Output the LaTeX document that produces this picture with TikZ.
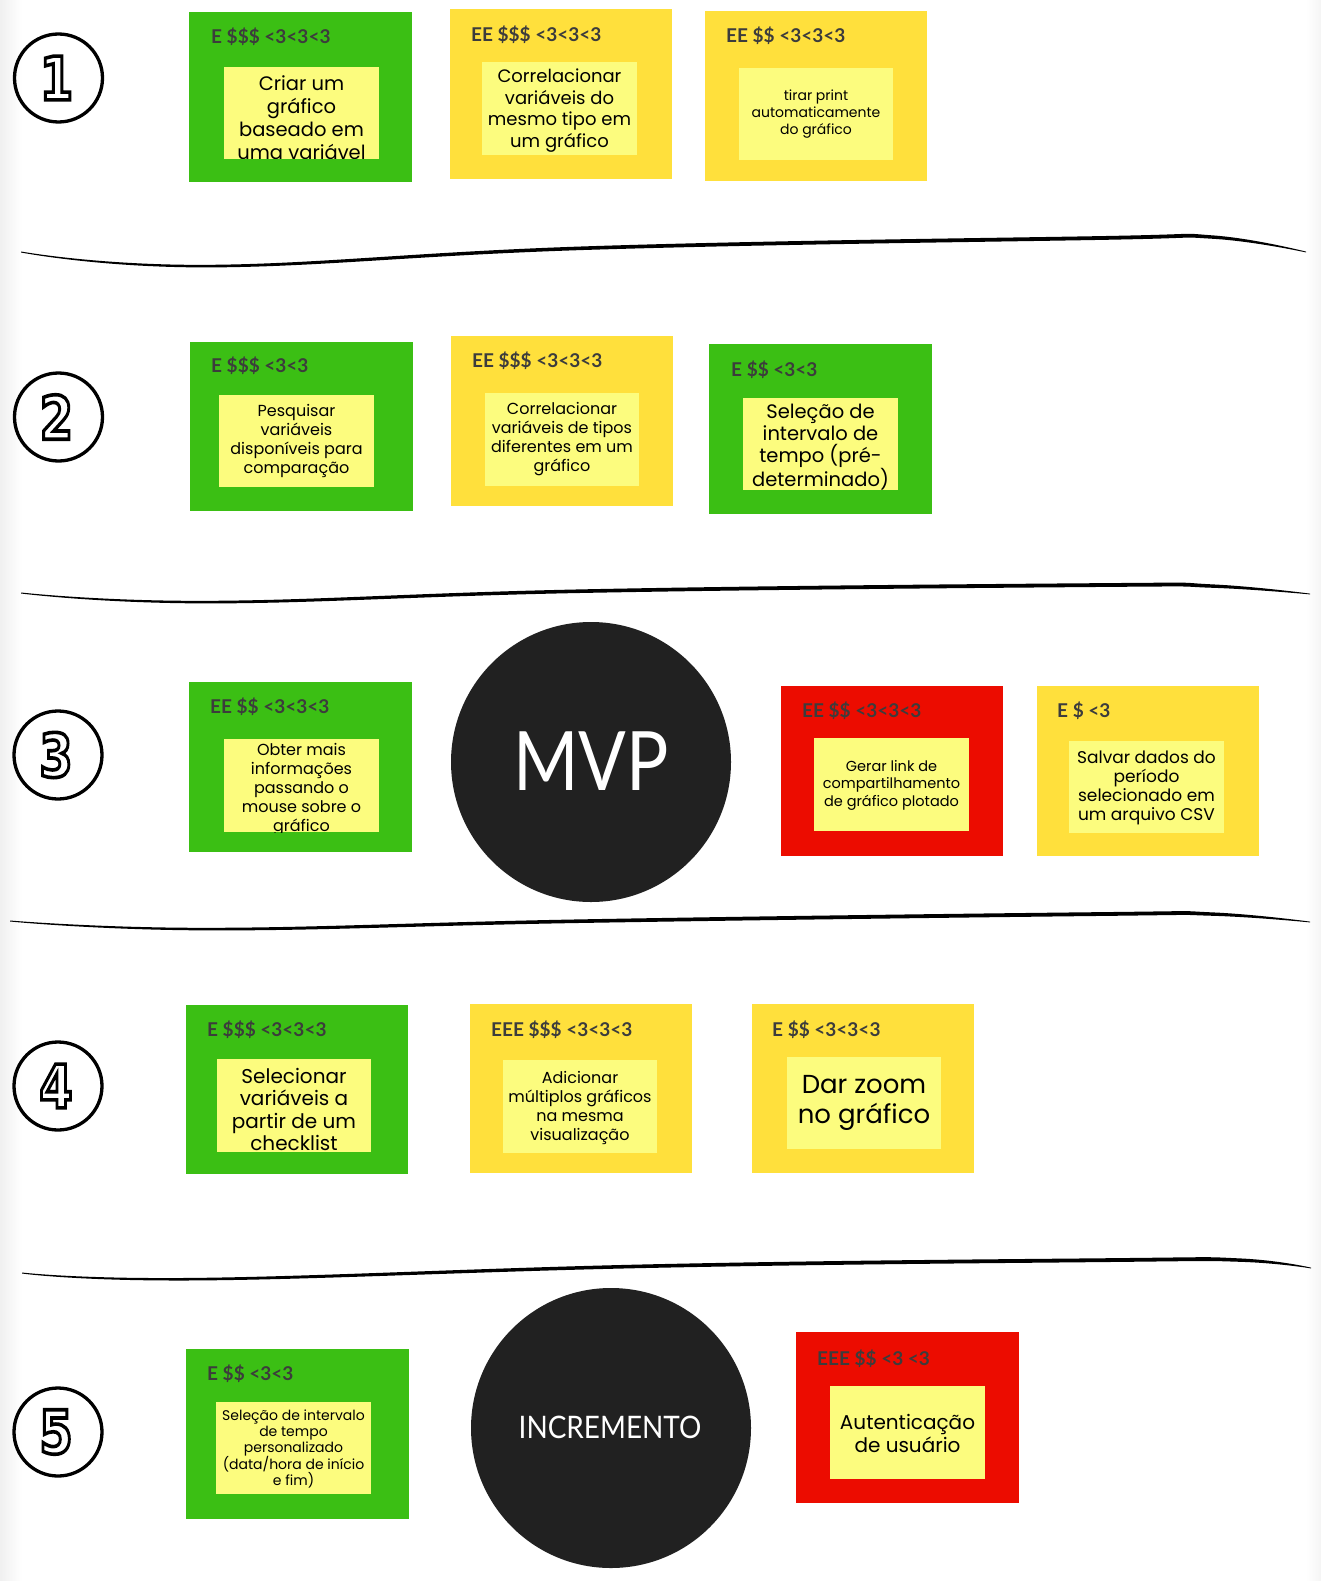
\documentclass[tikz,border=0pt]{standalone}
\usepackage{graphicx}
\usepackage{fontspec}
\setmainfont{Lato}
\newfontfamily\hdrfont{Lato}
\newfontfamily\handfont{Poppins}
\newfontfamily\digfont{DejaVu Sans}[BoldFeatures={FakeBold=6}]
\usetikzlibrary{calc}
\definecolor{sgreen}{HTML}{3BBF14}
\definecolor{syellow}{HTML}{FFE03C}
\definecolor{sred}{HTML}{EC0C00}
\definecolor{sinner}{HTML}{FCFC7E}
\definecolor{hdrgray}{HTML}{3C3C3C}
\definecolor{darkc}{HTML}{212121}
\tikzset{
  box/.style={rectangle, draw=none, inner sep=0pt, outer sep=0pt},
  hdrtext/.style={font=\hdrfont\bfseries\fontsize{19}{21}\selectfont, text=hdrgray, inner sep=0pt, anchor=base west},
  stxt/.style={align=center, inner sep=0pt, text=black},
  bigc/.style={circle, fill=darkc, inner sep=0pt, minimum size=280pt},
  numc/.style={circle, draw=black, line width=3.3pt, minimum size=88pt, inner sep=0pt},
  dig/.style={font=\digfont\bfseries\fontsize{60}{60}\selectfont, inner sep=0pt},
}
\newcommand\stkbox[6]{\node[box, fill=#2, anchor=north west, minimum width={#5pt-#3pt}, minimum height={#6pt-#4pt}] (#1) at (#3,#4) {};}
\newcommand\stktext[6]{\begin{scope}\clip (#1i.north west) rectangle (#1i.south east);
  \node[stxt, font=\handfont\fontsize{#4}{#5}\selectfont] (#1t) at (#2,#3) {#6};\end{scope}}
\newcommand\odig[2]{%
  \node[dig] (#1d) at ($(#1)+(-2,0)$) {\color{white}\scalebox{0.8}[1]{\special{pdf:literal direct 0 0 0 RG}#2}};}
\begin{document}
\begin{tikzpicture}[x=1pt,y=-1pt]
\useasboundingbox (0,0) rectangle (1321,1581);
\fill[white] (0,0) rectangle (1321,1581);
\shade[left color=black!6, right color=white] (0,0) rectangle (22,1581);
\shade[left color=white, right color=black!4] (1306,0) rectangle (1321,1581);

% separators (brush strokes)
\fill[black] plot[smooth, tension=0.7] coordinates {(21,251.5) (211,264.8) (590,246.2) (1095,236.2) (1213,235.4) (1306,251.6)}
  -- plot[smooth, tension=0.7] coordinates {(1306,252.4) (1213,238.8) (1095,240) (590,249.8) (211,267.4) (21,252.5)} -- cycle;
\fill[black] plot[smooth, tension=0.7] coordinates {(21,592.5) (211,600.8) (590,589.2) (1095,583.2) (1213,584.4) (1310,593.6)}
  -- plot[smooth, tension=0.7] coordinates {(1310,594.4) (1213,587.8) (1095,587) (590,592.8) (211,603.4) (21,593.5)} -- cycle;
\fill[black] plot[smooth, tension=0.7] coordinates {(10,920.5) (211,927.8) (590,919.2) (1095,912.2) (1213,912.4) (1310,921.6)}
  -- plot[smooth, tension=0.7] coordinates {(1310,922.4) (1213,915.8) (1095,916) (590,922.8) (211,930.4) (10,921.5)} -- cycle;
\fill[black] plot[smooth, tension=0.7] coordinates {(22,1272.5) (202,1277.8) (655,1264.2) (1109,1258.2) (1240,1258.4) (1311,1267.6)}
  -- plot[smooth, tension=0.7] coordinates {(1311,1268.4) (1240,1261.8) (1109,1262) (655,1267.8) (202,1280.4) (22,1273.5)} -- cycle;

% circled numbers
\node[numc] (n1) at (58.5,78) {};
\node[numc] (n2) at (58.5,417) {};
\node[numc] (n3) at (58,755) {};
\node[numc] (n4) at (58,1086) {};
\node[numc] (n5) at (58,1432) {};
\odig{n1}{1}
\odig{n2}{2}
\odig{n3}{3}
\odig{n4}{4}
\odig{n5}{5}

% row 1
\stkbox{s11}{sgreen}{189}{12}{412}{182}
\stkbox{s11i}{sinner}{224}{67}{379}{159}
\node[hdrtext] (s11h) at (211,44) {E \$\$\$ <3<3<3};
\stktext{s11}{301.5}{117.5}{19.5}{23}{Criar um\\gráfico\\baseado em\\uma variável}

\stkbox{s12}{syellow}{450}{9}{672}{179}
\stkbox{s12i}{sinner}{482}{62}{637}{155}
\node[hdrtext] (s12h) at (471,41.5) {EE \$\$\$ <3<3<3};
\stktext{s12}{559.5}{110.5}{18}{21.5}{Correlacionar\\variáveis do\\mesmo tipo em\\um gráfico}

\stkbox{s13}{syellow}{705}{11}{927}{181}
\stkbox{s13i}{sinner}{739}{68}{893}{160}
\node[hdrtext] (s13h) at (726,43) {EE \$\$ <3<3<3};
\stktext{s13}{816}{114}{14}{17}{tirar print\\automaticamente\\do gráfico}

% row 2
\stkbox{s21}{sgreen}{190}{342}{413}{511}
\stkbox{s21i}{sinner}{219}{395}{374}{487}
\node[hdrtext] (s21h) at (211,372) {E \$\$\$ <3<3};
\stktext{s21}{296.5}{441}{16}{18.7}{Pesquisar\\variáveis\\disponíveis para\\comparação}

\stkbox{s22}{syellow}{451}{336}{673}{506}
\stkbox{s22i}{sinner}{485}{393}{639}{486}
\node[hdrtext] (s22h) at (472,367) {EE \$\$\$ <3<3<3};
\stktext{s22}{562}{439.5}{16}{19}{Correlacionar\\variáveis de tipos\\diferentes em um\\gráfico}

\stkbox{s23}{sgreen}{709}{344}{932}{514}
\stkbox{s23i}{sinner}{743}{398}{898}{490}
\node[hdrtext] (s23h) at (731,376) {E \$\$ <3<3};
\stktext{s23}{820.5}{447}{19.5}{22}{Seleção de\\intervalo de\\tempo (pré-\\determinado)}

% row 3
\stkbox{s31}{sgreen}{189}{682}{412}{852}
\stkbox{s31i}{sinner}{224}{739}{379}{832}
\node[hdrtext] (s31h) at (210,713) {EE \$\$ <3<3<3};
\stktext{s31}{301.5}{790}{16}{19}{Obter mais\\informações\\passando o\\mouse sobre o\\gráfico}

\node[bigc] (mvp) at (591,762) {};
\node[text=white, inner sep=0pt, font=\hdrfont\fontsize{82}{82}\selectfont] (mvpt) at (591,761) {\scalebox{0.86}[1]{MVP}};

\stkbox{s33}{sred}{781}{686}{1003}{856}
\stkbox{s33i}{sinner}{814}{738}{969}{831}
\node[hdrtext] (s33h) at (802,717) {EE \$\$ <3<3<3};
\stktext{s33}{891.5}{785}{14.5}{17.5}{Gerar link de\\compartilhamento\\de gráfico plotado}

\stkbox{s34}{syellow}{1037}{686}{1259}{856}
\stkbox{s34i}{sinner}{1069}{741}{1224}{833}
\node[hdrtext] (s34h) at (1057,717) {E \$ <3};
\stktext{s34}{1146.5}{787.5}{17}{19}{Salvar dados do\\período\\selecionado em\\um arquivo CSV}

% row 4
\stkbox{s41}{sgreen}{186}{1005}{408}{1174}
\stkbox{s41i}{sinner}{217}{1059}{371}{1152}
\node[hdrtext] (s41h) at (207,1036) {E \$\$\$ <3<3<3};
\stktext{s41}{294}{1109.5}{20}{22.5}{Selecionar\\variáveis a\\partir de um\\checklist}

\stkbox{s42}{syellow}{470}{1004}{692}{1173}
\stkbox{s42i}{sinner}{503}{1060}{657}{1153}
\node[hdrtext] (s42h) at (491,1036) {EEE \$\$\$ <3<3<3};
\stktext{s42}{580}{1107.5}{16}{19}{Adicionar\\múltiplos gráficos\\na mesma\\visualização}

\stkbox{s43}{syellow}{752}{1004}{974}{1173}
\stkbox{s43i}{sinner}{787}{1057}{941}{1149}
\node[hdrtext] (s43h) at (772,1036) {E \$\$ <3<3<3};
\stktext{s43}{864}{1103}{26}{30}{Dar zoom\\no gráfico}

% row 5
\stkbox{s51}{sgreen}{186}{1349}{409}{1519}
\stkbox{s51i}{sinner}{216}{1402}{371}{1494}
\node[hdrtext] (s51h) at (207,1380) {E \$\$ <3<3};
\stktext{s51}{293.5}{1449}{14}{15.8}{Seleção de intervalo\\de tempo\\personalizado\\(data/hora de início\\e fim)}

\node[bigc] (inc) at (611,1428) {};
\node[text=white, inner sep=0pt, font=\hdrfont\fontsize{31}{31}\selectfont] (inct) at (610,1427.5) {\scalebox{0.9}[1]{INCREMENTO}};

\stkbox{s53}{sred}{796}{1332}{1019}{1503}
\stkbox{s53i}{sinner}{830}{1386}{985}{1479}
\node[hdrtext] (s53h) at (817,1365) {EEE \$\$ <3 <3};
\stktext{s53}{907.5}{1433.5}{20}{23}{Autenticação\\de usuário}
\end{tikzpicture}
\end{document}
